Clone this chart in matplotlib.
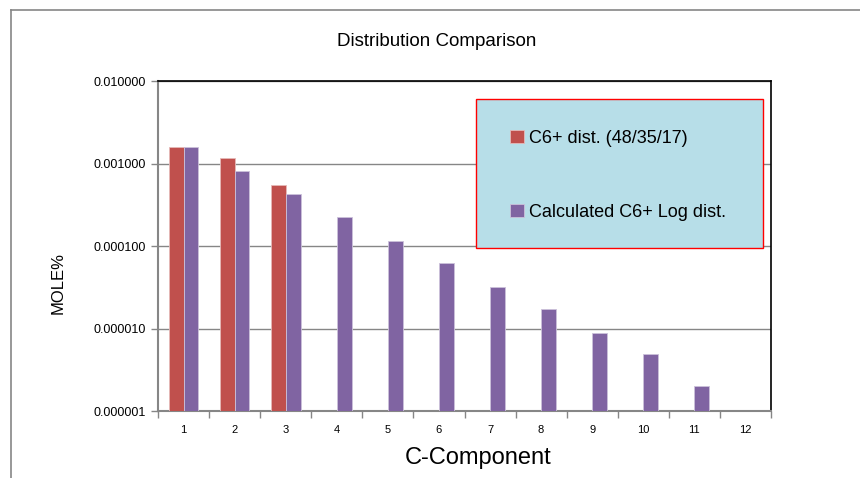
import matplotlib
matplotlib.use("Agg")
import matplotlib.pyplot as plt
from matplotlib.lines import Line2D
from matplotlib.patches import Rectangle
from matplotlib.ticker import FixedLocator, FuncFormatter, NullLocator
import numpy as np

# --- data ---
components = [1, 2, 3, 4, 5, 6, 7, 8, 9, 10, 11, 12]
c6_dist = [0.00158, 0.00116, 0.000551]          # only C1..C3 given
log_dist = [0.00158, 0.000815, 0.000433, 0.000225, 0.000116,
            6.16e-5, 3.18e-5, 1.71e-5, 8.77e-6, 4.92e-6, 2.0e-6, np.nan]
series_names = ["C6+ dist. (48/35/17)", "Calculated C6+ Log dist."]

RED = "#C0504D"
PURPLE = "#8064A2"
GRAY = "#868686"
W, H = 860, 478

plt.rcParams['font.family'] = ['Liberation Sans', 'DejaVu Sans']

fig = plt.figure(figsize=(W / 100, H / 100), dpi=100)
ax = fig.add_axes([158 / W, 1 - 411 / H, (771 - 158) / W, (411 - 81.3) / H])

w = 0.29
x = np.array(components, dtype=float)
ax.bar(x[:len(c6_dist)] - w / 2, c6_dist, width=w, color=RED,
       edgecolor="#E6B9B8", linewidth=0.6, label=series_names[0], zorder=3)
ax.bar(x + w / 2, log_dist, width=w, color=PURPLE,
       edgecolor="#CCC1DA", linewidth=0.6, label=series_names[1], zorder=3)

ax.set_yscale("log")
ax.set_ylim(1e-6, 1e-2)
ax.set_xlim(0.5, 12.5)

# y axis: decades only, fixed 6-digit labels
ax.yaxis.set_major_locator(FixedLocator([1e-6, 1e-5, 1e-4, 1e-3, 1e-2]))
ax.yaxis.set_minor_locator(NullLocator())
ax.yaxis.set_major_formatter(FuncFormatter(lambda v, p: f"{v:.6f}"))
ax.grid(axis="y", which="major", color=GRAY, linewidth=1.0, zorder=0)

# x axis: labels at centres, tick marks at category boundaries
ax.set_xticks(x)
ax.set_xticklabels([str(c) for c in components])
ax.set_xticks(np.arange(0.5, 12.6, 1), minor=True)
ax.tick_params(axis="x", which="major", length=0, pad=10, labelsize=8)
ax.tick_params(axis="x", which="minor", length=5, color=GRAY, width=1)
ax.tick_params(axis="y", which="major", length=5, color=GRAY, width=1,
               labelsize=9, pad=4)

for side in ("left", "bottom"):
    ax.spines[side].set_color(GRAY)
    ax.spines[side].set_linewidth(1.5)
for side in ("top", "right"):
    ax.spines[side].set_color("black")
    ax.spines[side].set_linewidth(1.2)

# legend box: light blue fill with red border, drawn as a figure patch
fig.add_artist(Rectangle((476 / W, 1 - 248 / H), (763 - 476) / W, (248 - 99) / H,
                         transform=fig.transFigure, facecolor="#B7DEE8",
                         edgecolor="#FF0000", linewidth=1.0, zorder=5))
leg = fig.legend(*ax.get_legend_handles_labels(), loc="upper left",
                 bbox_to_anchor=(510 / W, 1 - 130 / H), frameon=False,
                 fontsize=13, handlelength=0.75, handleheight=0.75, handletextpad=0.3,
                 labelspacing=3.15, borderpad=0, borderaxespad=0)
leg.set_zorder(6)

fig.text(437 / W, 1 - 42 / H, "Distribution Comparison", ha="center", va="center", fontsize=13.5)
fig.text(478 / W, 1 - 458 / H, "C-Component", ha="center", va="center", fontsize=17)
fig.text(58 / W, 1 - 283 / H, "MOLE%", ha="center", va="center", rotation=90, fontsize=12)

# outer chart border (gray, cut off at right and bottom)
fig.add_artist(Line2D([11 / W, 11 / W], [0, 1 - 10 / H], color=GRAY, linewidth=1.2))
fig.add_artist(Line2D([11 / W, 1], [1 - 10 / H, 1 - 10 / H], color=GRAY, linewidth=1.2))

fig.savefig("out.png", dpi=100)
